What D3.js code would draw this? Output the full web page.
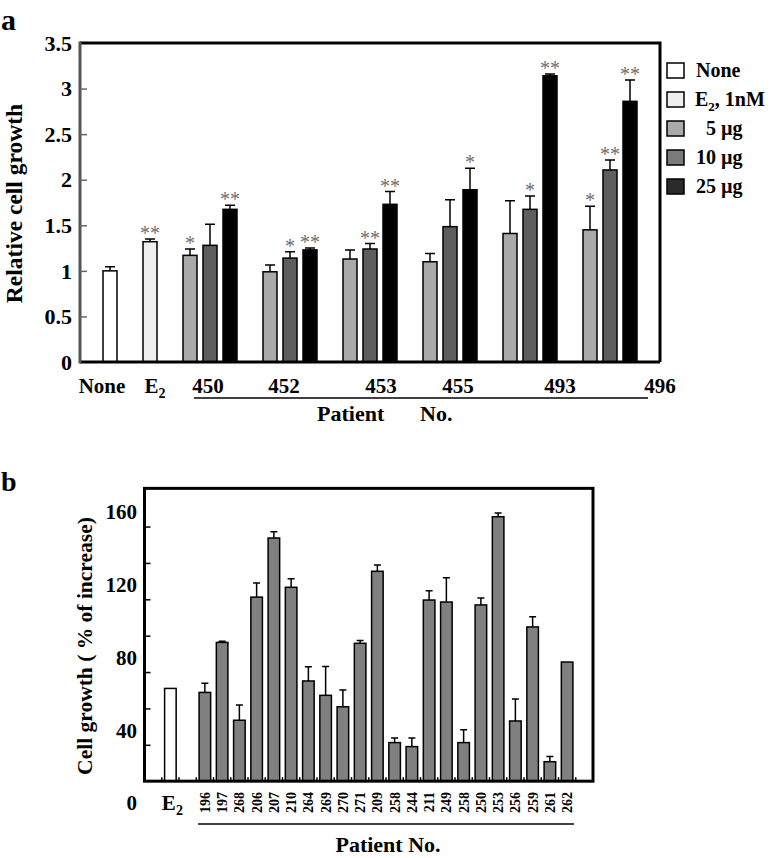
<!DOCTYPE html>
<html><head><meta charset="utf-8">
<script src="https://cdn.jsdelivr.net/npm/d3@7"></script>
<style>
body{margin:0;background:#fff}
svg{display:block}
text{font-family:"Liberation Serif","Times New Roman",serif;}
</style>
</head><body><svg id="c" width="773" height="858"></svg>
<script>
// ---------- Panel a data ----------
const patientsA = ["450","452","453","455","493","496"];
const noneVal = 1.00, noneErr = 1.045;
const e2Val = 1.32, e2Err = 1.35;
const dose5 = [1.17,0.99,1.13,1.10,1.41,1.45];
const dose5Err = [1.24,1.064,1.23,1.19,1.77,1.71];
const dose10 = [1.28,1.14,1.24,1.485,1.675,2.107];
const dose10Err = [1.51,1.21,1.30,1.78,1.82,2.216];
const dose25 = [1.675,1.23,1.73,1.89,3.14,2.86];
const dose25Err = [1.72,1.25,1.87,2.125,3.16,3.095];
const sig5 = ["*","","","","","*"];
const sig10 = ["","*","**","","*","**"];
const sig25 = ["**","**","**","*","**","**"];
const yTicksA = [0,0.5,1,1.5,2,2.5,3,3.5];
const xLabelsA = ["None","E2","450","452","453","455","493","496"];
const legendLabels = ["None","E2, 1nM","\u20075 µg","10 µg","25 µg"];

// ---------- Panel b data ----------
const patientsB = ["196","197","268","206","207","210","264","269","270","271","209","258","244","211","249","258","250","253","256","259","261","262"];
const valuesB = [60.8,88.3,45.5,113.2,145.7,118.6,67.1,59.2,52.9,87.8,127.4,33.2,31.0,111.6,110.5,33.2,108.9,157.4,45.1,96.8,22.7,77.5];
const errB = [65.9,88.9,53.9,120.9,149.2,123.3,74.9,75.1,62.1,89.4,130.8,35.7,35.7,116.7,123.9,40.3,112.7,159.4,57.2,102.4,25.5,null];
const e2ValB = 63.0;
const yTicksB = [0,40,80,120,160];

// ---------- styles ----------
const colA = {none:"#ffffff", e2:"#efefef", d5:"#a9a9a9", d10:"#5e5e5e", d25:"#000000"};
const legendCols = ["#ffffff","#efefef","#aaaaaa","#7a7a7a","#2b2b2b"];
const colB = "#808080";

const svg = d3.select("#c");

// ================= PANEL A =================
const yA = d3.scaleLinear().domain([0,3.5]).range([362,43]);
const xA = d3.scaleBand().domain(d3.range(29)).range([80,660]).paddingInner(0.3).paddingOuter(0.15);

const barsA = [];
barsA.push({slot:1, v:noneVal, e:noneErr, fill:colA.none, sig:""});
barsA.push({slot:3, v:e2Val, e:e2Err, fill:colA.e2, sig:"**"});
patientsA.forEach((p,i)=>{
  barsA.push({slot:5+4*i, v:dose5[i], e:dose5Err[i], fill:colA.d5, sig:sig5[i]});
  barsA.push({slot:6+4*i, v:dose10[i], e:dose10Err[i], fill:colA.d10, sig:sig10[i]});
  barsA.push({slot:7+4*i, v:dose25[i], e:dose25Err[i], fill:colA.d25, sig:sig25[i]});
});

const gA = svg.append("g");
gA.append("text").attr("x",1).attr("y",30).attr("font-size",30).attr("font-weight","bold").text("a");

// bars
gA.selectAll("rect.bar").data(barsA).join("rect")
  .attr("x",d=>xA(d.slot)).attr("width",xA.bandwidth())
  .attr("y",d=>yA(d.v)).attr("height",d=>yA(0)-yA(d.v))
  .attr("fill",d=>d.fill).attr("stroke","#000").attr("stroke-width",1.5);
// error bars
const capA = 10;
gA.selectAll("path.err").data(barsA).join("path")
  .attr("d",d=>{const cx=xA(d.slot)+xA.bandwidth()/2;
     return `M${cx},${yA(d.v)}V${yA(d.e)}M${cx-capA/2},${yA(d.e)}H${cx+capA/2}`;})
  .attr("stroke","#000").attr("stroke-width",1.5).attr("fill","none");
// significance
gA.selectAll("text.sig").data(barsA.filter(d=>d.sig)).join("text")
  .attr("x",d=>xA(d.slot)+xA.bandwidth()/2).attr("y",d=>yA(d.e)+1)
  .attr("text-anchor","middle").attr("font-size",20).attr("fill","#6e6e6e").text(d=>d.sig);

// frame
const fA = {x0:xA.range()[0], x1:xA.range()[1], y0:yA(3.5), y1:yA(0)};
gA.append("path").attr("d",`M${fA.x0},${fA.y0}H${fA.x1}V${fA.y1}`).attr("stroke","#000").attr("stroke-width",3).attr("fill","none");
gA.append("line").attr("x1",fA.x0).attr("x2",fA.x1).attr("y1",fA.y1).attr("y2",fA.y1).attr("stroke","#000").attr("stroke-width",3);
gA.append("line").attr("x1",fA.x0).attr("x2",fA.x0).attr("y1",fA.y0-1.5).attr("y2",fA.y1+1.5).attr("stroke","#555").attr("stroke-width",3);

// inward ticks
const tickA = gA.append("g").attr("transform",`translate(${fA.x0},0)`)
  .call(d3.axisRight(yA).tickValues(yTicksA.slice(1,-1)).tickSize(7).tickFormat(""));
tickA.select(".domain").remove();
tickA.selectAll("line").attr("stroke","#666").attr("stroke-width",1.5);
// tick labels
gA.selectAll("text.yl").data(yTicksA).join("text")
  .attr("x",fA.x0-8).attr("y",d=>yA(d)).attr("dy","0.35em")
  .attr("text-anchor","end").attr("font-size",22).attr("font-weight","bold")
  .text(d=>d3.format("")(d));

// y label
gA.append("text").attr("transform",`translate(22,${(fA.y0+fA.y1)/2+1}) rotate(-90)`)
  .attr("text-anchor","middle").attr("font-size",23.5).attr("font-weight","bold").text("Relative cell growth");

// x labels (slot positions in band-step units)
const labelSlotsA = [1.1,3.75,6.4,10.2,15.05,18.9,24,29];
xLabelsA.forEach((lab,i)=>{
  const t = gA.append("text").attr("x",xA.range()[0]+labelSlotsA[i]*xA.step()).attr("y",393)
    .attr("text-anchor","middle").attr("font-size",21).attr("font-weight","bold");
  if(lab==="E2"){ t.append("tspan").text("E"); t.append("tspan").attr("dy",5).attr("font-size",14).text("2"); }
  else t.text(lab);
});
// Patient No. underline
gA.append("line").attr("x1",xA.range()[0]+5.7*xA.step()).attr("x2",xA.range()[0]+28.4*xA.step())
  .attr("y1",398).attr("y2",398).attr("stroke","#000").attr("stroke-width",1.5);
gA.append("text").attr("x",317).attr("y",421).attr("font-size",22).attr("font-weight","bold").text("Patient");
gA.append("text").attr("x",420).attr("y",421).attr("font-size",22).attr("font-weight","bold").text("No.");

// legend
const lg = gA.append("g").attr("transform","translate(667,63)");
legendLabels.forEach((lab,i)=>{
  lg.append("rect").attr("x",0).attr("y",i*29).attr("width",17).attr("height",15)
    .attr("fill",legendCols[i]).attr("stroke","#000").attr("stroke-width",1.5);
  const t = lg.append("text").attr("x",i===1?28:29).attr("y",i*29+14).attr("font-size",20).attr("font-weight","bold");
  if(i===1){ t.append("tspan").text("E"); t.append("tspan").attr("dy",5).attr("font-size",13).text("2");
             t.append("tspan").attr("dy",-5).text(", 1nM"); }
  else t.text(lab);
});

// ================= PANEL B =================
const yB = d3.scaleLinear().domain([0,160]).range([803,512]);
const baseB = 12, topB = 173;
const xB = d3.scaleBand().domain(d3.range(26)).range([144.5,593]).paddingInner(0.33).paddingOuter(0.165);

const barsB = [{slot:1, v:e2ValB, e:null, fill:"#ffffff"}];
patientsB.forEach((p,i)=>barsB.push({slot:3+i, v:valuesB[i], e:errB[i], fill:colB, lab:p}));

const gB = svg.append("g");
gB.append("text").attr("x",1).attr("y",491).attr("font-size",28).attr("font-weight","bold").text("b");

gB.selectAll("rect.bar").data(barsB).join("rect")
  .attr("x",d=>xB(d.slot)).attr("width",xB.bandwidth())
  .attr("y",d=>yB(d.v)).attr("height",d=>yB(baseB)-yB(d.v))
  .attr("fill",d=>d.fill).attr("stroke","#000").attr("stroke-width",1.5);
const capB = 7;
gB.selectAll("path.err").data(barsB.filter(d=>d.e!=null)).join("path")
  .attr("d",d=>{const cx=xB(d.slot)+xB.bandwidth()/2;
     return `M${cx},${yB(d.v)}V${yB(d.e)}M${cx-capB/2},${yB(d.e)}H${cx+capB/2}`;})
  .attr("stroke","#000").attr("stroke-width",1.5).attr("fill","none");

// frame
const fB = {x0:xB.range()[0], x1:xB.range()[1], y0:yB(topB), y1:yB(baseB)};
gB.append("rect").attr("x",fB.x0).attr("y",fB.y0).attr("width",fB.x1-fB.x0).attr("height",fB.y1-fB.y0)
  .attr("fill","none").attr("stroke","#000").attr("stroke-width",3);

// inward y ticks
const tickB = gB.append("g").attr("transform",`translate(${fB.x0},0)`)
  .call(d3.axisRight(yB).tickValues(d3.range(32,160,20)).tickSize(6).tickFormat(""));
tickB.select(".domain").remove();
tickB.selectAll("line").attr("stroke","#000").attr("stroke-width",1.5);
// bottom slot ticks
gB.selectAll("line.bt").data(d3.range(1,26)).join("line")
  .attr("x1",k=>fB.x0+k*xB.step()).attr("x2",k=>fB.x0+k*xB.step())
  .attr("y1",fB.y1).attr("y2",fB.y1-4).attr("stroke","#000").attr("stroke-width",1.5);
// y labels
gB.selectAll("text.yl").data(yTicksB).join("text")
  .attr("x",137).attr("y",d=>yB(d)).attr("dy","0.35em")
  .attr("text-anchor","end").attr("font-size",21).attr("font-weight","bold").text(d=>d);
// y title
gB.append("text").attr("transform",`translate(92,646) rotate(-90)`)
  .attr("text-anchor","middle").attr("font-size",21.5).attr("font-weight","bold").text("Cell growth ( % of increase)");
// x labels
const e2t = gB.append("text").attr("x",xB(1)+xB.bandwidth()/2+2).attr("y",810).attr("text-anchor","middle")
  .attr("font-size",21).attr("font-weight","bold");
e2t.append("tspan").text("E"); e2t.append("tspan").attr("dy",5).attr("font-size",14).text("2");
gB.selectAll("text.xl").data(barsB.filter(d=>d.lab)).join("text")
  .attr("transform",d=>`translate(${xB(d.slot)+xB.bandwidth()/2},792) rotate(-90)`)
  .attr("dy","0.35em").attr("text-anchor","end").attr("font-size",14).attr("font-weight","bold").text(d=>d.lab);
// underline + Patient No.
gB.append("line").attr("x1",xB(3)-1).attr("x2",xB(24)+xB.bandwidth()+1).attr("y1",824).attr("y2",824)
  .attr("stroke","#000").attr("stroke-width",1.5);
gB.append("text").attr("x",388).attr("y",852).attr("text-anchor","middle").attr("font-size",22).attr("font-weight","bold").text("Patient No.");
</script></body></html>
